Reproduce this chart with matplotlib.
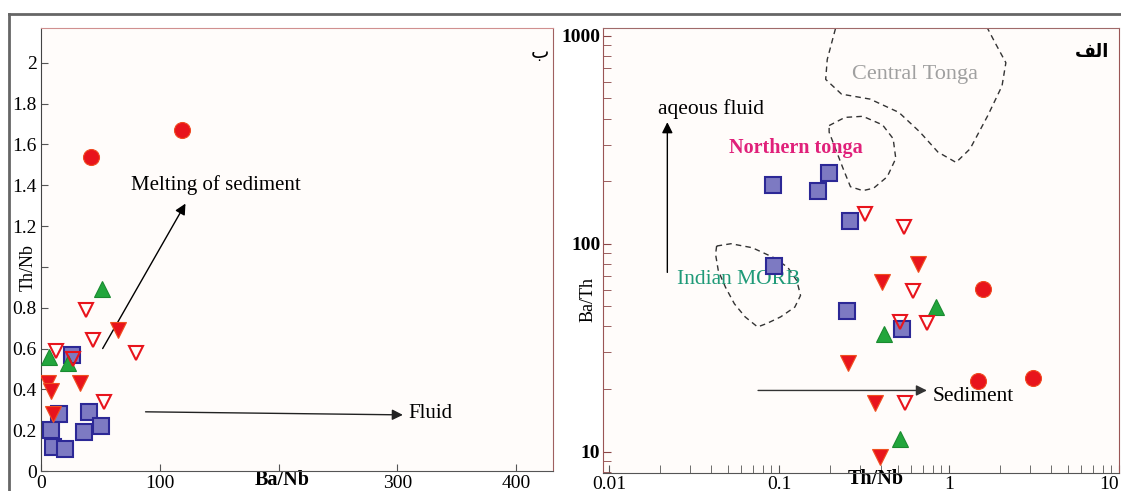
import matplotlib
matplotlib.use('Agg')
import matplotlib.pyplot as plt
from matplotlib.lines import Line2D
from matplotlib.ticker import FixedLocator, LogLocator, NullFormatter

plt.rcParams['font.family'] = ['Liberation Serif', 'DejaVu Sans']

# ---- left panel (Th/Nb vs Ba/Nb) ----
circ_banb = [42, 119]
circ_thnb = [1.54, 1.67]
up_banb = [51, 7, 23]
up_thnb = [0.89, 0.56, 0.53]
down_banb = [64.5, 33, 5.8, 8.8, 9.8]
down_thnb = [0.69, 0.43, 0.43, 0.39, 0.28]
open_banb = [38, 44, 13, 27, 80, 53]
open_thnb = [0.79, 0.64, 0.59, 0.55, 0.58, 0.34]
sq_banb = [26, 15.4, 40.4, 8.2, 50.3, 35.9, 9.8, 20.3]
sq_thnb = [0.57, 0.28, 0.29, 0.20, 0.22, 0.19, 0.12, 0.11]

left_yticks = [0, 0.2, 0.4, 0.6, 0.8, 1.0, 1.2, 1.4, 1.6, 1.8, 2.0]
left_ylabels = ['0', '0.2', '0.4', '0.6', '0.8', '', '1.2', '1.4', '1.6', '1.8', '2']
left_xticks = [0, 100, 200, 300, 400]
left_xlabels = ['0', '100', '', '300', '400']

# ---- right panel (Ba/Th vs Th/Nb) ----
sq_thnb_r = [0.0916, 0.170, 0.197, 0.263, 0.0929, 0.250, 0.530]
sq_bath = [191, 179, 220, 129, 78, 47.5, 38.7]
circ_thnb_r = [1.59, 1.48, 3.13]
circ_bath = [60.6, 21.8, 22.6]
up_thnb_r = [0.840, 0.413, 0.512]
up_bath = [49.9, 36.7, 11.5]
down_thnb_r = [0.657, 0.403, 0.256, 0.366, 0.394]
down_bath = [79.8, 65.2, 26.7, 17.2, 9.4]
open_thnb_r = [0.319, 0.544, 0.610, 0.512, 0.741, 0.553]
open_bath = [139, 121, 59.5, 42.1, 41.6, 17.1]

central_x = [0.222, 0.192, 0.188, 0.233, 0.343, 0.507, 0.675, 0.860, 1.10, 1.33, 1.69, 2.05, 2.16, 1.87, 1.58]
central_y = [1200, 769, 617, 524, 496, 428, 344, 276, 246, 286, 413, 574, 742, 923, 1200]
north_x = [0.197, 0.244, 0.311, 0.406, 0.469, 0.486, 0.433, 0.360, 0.311, 0.263, 0.238, 0.211, 0.197]
north_y = [370, 405, 410, 373, 320, 257, 210, 185, 180, 188, 230, 297, 344]
morb_x = [0.0429, 0.0521, 0.0695, 0.0929, 0.1126, 0.1272, 0.1337, 0.1238, 0.1022, 0.0844, 0.0747, 0.0631, 0.0546, 0.0484, 0.0439, 0.0423]
morb_y = [97.5, 100, 95.7, 85.8, 76.9, 66.4, 56.4, 49.6, 44.5, 41.3, 39.8, 44.5, 51.4, 61.7, 74.1, 88.9]

red = '#e8141c'
green = '#22a63c'
sq_face = '#7d7ac2'
sq_edge = '#2c2896'

fig = plt.figure(figsize=(11.21, 4.91), dpi=100)
ax1 = fig.add_axes([0.0366, 0.0407, 0.4567, 0.9022])
ax2 = fig.add_axes([0.5379, 0.0367, 0.4603, 0.9063])

# outer frame of the page crop
fig.add_artist(Line2D([0.008, 1.0], [0.9715, 0.9715], color='#666666', lw=2))
fig.add_artist(Line2D([0.008, 0.008], [0.0, 0.9715], color='#666666', lw=2))


def draw_points(ax, cx, cy, ux, uy, dx, dy, ox, oy, sx, sy):
    ax.plot(cx, cy, 'o', ms=11.5, mfc=red, mec='#f04a20', mew=0.8, ls='none', zorder=5)
    ax.plot(ux, uy, '^', ms=12, mfc=green, mec='#1a8a30', mew=0.8, ls='none', zorder=5)
    ax.plot(dx, dy, 'v', ms=12, mfc=red, mec='#f05020', mew=0.8, ls='none', zorder=5)
    ax.plot(sx, sy, 's', ms=11, mfc=sq_face, mec=sq_edge, mew=1.5, ls='none', zorder=4)
    ax.plot(ox, oy, 'v', ms=10, mfc='none', mec=red, mew=1.5, ls='none', zorder=6)


for ax in (ax1, ax2):
    ax.set_facecolor('#fffcfa')
    ax.tick_params(which='both', direction='in', colors='#555555', labelcolor='black')

# left panel
draw_points(ax1, circ_banb, circ_thnb, up_banb, up_thnb, down_banb, down_thnb,
            open_banb, open_thnb, sq_banb, sq_thnb)
ax1.set_xlim(0, 431)
ax1.set_ylim(0, 2.17)
ax1.set_yticks(left_yticks)
ax1.set_yticklabels(left_ylabels, fontsize=14)
ax1.set_xticks(left_xticks)
ax1.set_xticklabels(left_xlabels, fontsize=14)
ax1.tick_params(axis='both', length=5, pad=3)
ax1.set_xlabel('Ba/Nb', fontsize=14.5, fontweight='bold', va='bottom')
ax1.xaxis.set_label_coords(0.471, -0.042)
ax1.set_ylabel('Th/Nb', fontsize=13)
ax1.yaxis.set_label_coords(-0.008, 0.46)
ax1.spines['left'].set_color('#444444')
ax1.spines['bottom'].set_color('#555555')
ax1.spines['top'].set_color('#d09090')
ax1.spines['right'].set_color('#a06060')

ax1.annotate('', xy=(121.6, 1.31), xytext=(51.9, 0.60),
             arrowprops=dict(arrowstyle='-|>', color='black', lw=1, mutation_scale=16,
                             shrinkA=0, shrinkB=0))
ax1.annotate('', xy=(304.6, 0.275), xytext=(88, 0.29),
             arrowprops=dict(arrowstyle='-|>', color='#222222', lw=1, mutation_scale=16,
                             shrinkA=0, shrinkB=0))
ax1.text(76, 1.40, 'Melting of sediment', fontsize=15, va='center', ha='left')
ax1.text(309, 0.28, 'Fluid', fontsize=15, va='center', ha='left')
ax1.text(420, 2.05, 'ب', fontsize=14, family='DejaVu Sans', ha='center', va='center')

# right panel
ax2.plot(central_x, central_y, ls=(0, (4, 3)), color='#333333', lw=1)
ax2.plot(north_x + north_x[:1], north_y + north_y[:1], ls=(0, (4, 3)), color='#333333', lw=1)
ax2.plot(morb_x + morb_x[:1], morb_y + morb_y[:1], ls=(0, (4, 3)), color='#333333', lw=1)
draw_points(ax2, circ_thnb_r, circ_bath, up_thnb_r, up_bath, down_thnb_r, down_bath,
            open_thnb_r, open_bath, sq_thnb_r, sq_bath)
ax2.set_xscale('log')
ax2.set_yscale('log')
ax2.set_xlim(0.0092, 10)
ax2.set_ylim(7.9, 1090)
ax2.xaxis.set_major_locator(FixedLocator([0.01, 0.1, 1, 10]))
ax2.set_xticklabels(['0.01', '0.1', '1', '10'], fontsize=14)
ax2.get_xticklabels()[-1].set_ha('right')
ax2.xaxis.set_minor_locator(LogLocator(base=10, subs=range(2, 10)))
ax2.xaxis.set_minor_formatter(NullFormatter())
ax2.yaxis.set_major_locator(FixedLocator([10, 100, 1000]))
ax2.set_yticklabels(['10', '100', '1000'], fontsize=14, fontweight='bold')
ax2.yaxis.set_minor_locator(LogLocator(base=10, subs=range(2, 10)))
ax2.yaxis.set_minor_formatter(NullFormatter())
ax2.tick_params(axis='both', which='both', length=6, pad=2)
ax2.tick_params(axis='y', which='both', colors='#8a4545', labelcolor='black')
ax2.set_xlabel('Th/Nb', fontsize=14.5, fontweight='bold', va='bottom')
ax2.xaxis.set_label_coords(0.529, -0.037)
ax2.set_ylabel('Ba/Th', fontsize=13)
ax2.yaxis.set_label_coords(-0.012, 0.389)
ax2.spines['left'].set_color('#9a5555')
ax2.spines['bottom'].set_color('#555555')
ax2.spines['top'].set_color('#a06a6a')
ax2.spines['right'].set_color('#9a5555')

ax2.annotate('', xy=(0.022, 384), xytext=(0.022, 72.8),
             arrowprops=dict(arrowstyle='-|>', color='black', lw=1, mutation_scale=16,
                             shrinkA=0, shrinkB=0))
ax2.annotate('', xy=(0.741, 19.7), xytext=(0.0752, 19.7),
             arrowprops=dict(arrowstyle='-|>', color='#333333', lw=1, mutation_scale=16,
                             shrinkA=0, shrinkB=0))
ax2.text(0.269, 652, 'Central Tonga', fontsize=16, color='#a0a0a0', va='center', ha='left')
ax2.text(0.0193, 445, 'aqeous fluid', fontsize=15.5, va='center', ha='left')
ax2.text(0.0507, 289, 'Northern tonga', fontsize=14.5, color='#e0207a', fontweight='bold',
         va='center', ha='left')
ax2.text(0.0251, 67.6, 'Indian MORB', fontsize=15.5, color='#1f9a78', va='center', ha='left')
ax2.text(0.80, 18.5, 'Sediment', fontsize=15.5, va='center', ha='left')
ax2.text(6.97, 839, '\ufed2\ufedf\u0627', fontsize=13, family='DejaVu Sans', fontweight='bold',
         ha='center', va='center')

fig.savefig('out.png', dpi=100)
